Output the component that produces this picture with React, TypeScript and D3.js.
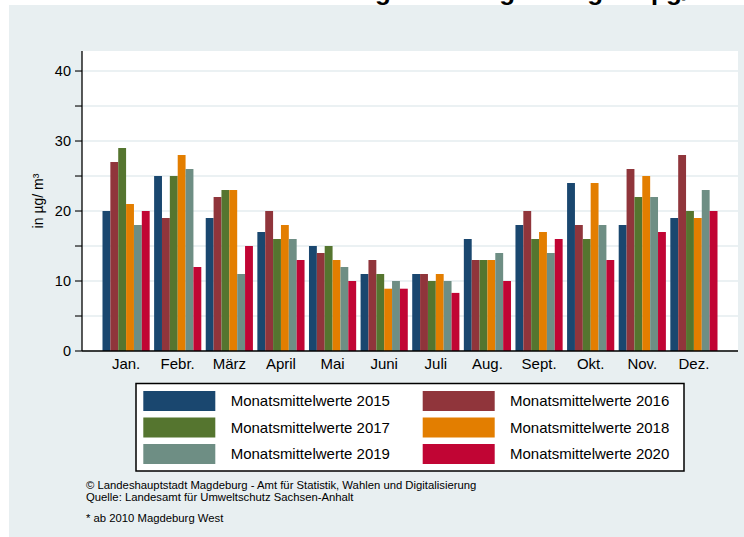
// @ts-nocheck
import React from "react";
import * as d3 from "d3";

const months = ["Jan.", "Febr.", "März", "April", "Mai", "Juni", "Juli", "Aug.", "Sept.", "Okt.", "Nov.", "Dez."];
const years = ["2015", "2016", "2017", "2018", "2019", "2020"];

const v2015 = [20, 25, 19, 17, 15, 11, 11, 16, 18, 24, 18, 19];
const v2016 = [27, 19, 22, 20, 14, 13, 11, 13, 20, 18, 26, 28];
const v2017 = [29, 25, 23, 16, 15, 11, 10, 13, 16, 16, 22, 20];
const v2018 = [21, 28, 23, 18, 13, 8.9, 11, 13, 17, 24, 25, 19];
const v2019 = [18, 26, 11, 16, 12, 10, 10, 14, 14, 18, 22, 23];
const v2020 = [20, 12, 15, 13, 10, 8.9, 8.3, 10, 16, 13, 17, 20];

const yTicks = [0, 10, 20, 30, 40];
const colors = ["#1a476f", "#90353b", "#55752f", "#e37e00", "#6e8e84", "#c10534"];

const W = 744, H = 537;
const FONT = "'Liberation Sans', Arial, Helvetica, sans-serif";
const plot = { left: 82, right: 738, top: 51, bottom: 351 };

export default function App() {
  const series = [v2015, v2016, v2017, v2018, v2019, v2020];

  const x = d3.scaleBand().domain(months).range([plot.left, plot.right])
    .paddingInner(0.086).paddingOuter(0.397);
  const xs = d3.scaleBand().domain(years).range([0, x.bandwidth()]);
  const y = d3.scaleLinear().domain([0, 42.86]).range([plot.bottom, plot.top]);
  const grid = d3.range(0, 41, 5);

  const legendRows = [[0, 1], [2, 3], [4, 5]];

  return (
    <svg width={W} height={H} style={{ position: "absolute", left: 0, top: 0 }} fontFamily={FONT}>
      <rect width={W} height={H} fill="#fff" />
      <text x={61.5} y={-0.5} fontSize={26} fontWeight="bold" fill="#000">
        Stickstoffdioxid-Belastung 2020 Magdeburg* in µg/m³
      </text>
      <rect x={9} y={5} width={W - 9} height={H - 5} fill="#e8eff1" />
      <rect x={plot.left} y={plot.top} width={plot.right - plot.left} height={plot.bottom - plot.top} fill="#fff" />

      {grid.map(g => (
        <line key={"g" + g} x1={plot.left} x2={plot.right} y1={y(g)} y2={y(g)} stroke="#e4ecef" strokeWidth={1.5} />
      ))}

      {months.map((m, i) => (
        <g key={m} transform={`translate(${x(m)},0)`}>
          {series.map((s, j) => (
            <rect key={j} x={xs(years[j])} y={y(s[i])} width={xs.bandwidth()}
              height={y(0) - y(s[i])} fill={colors[j]} />
          ))}
        </g>
      ))}

      {/* y axis */}
      <line x1={plot.left} x2={plot.left} y1={plot.top} y2={plot.bottom} stroke="#000" strokeWidth={1.3} />
      {grid.map(g => (
        <line key={"t" + g} x1={75} x2={plot.left} y1={y(g)} y2={y(g)} stroke="#000" strokeWidth={1.1} />
      ))}
      {yTicks.map(t => (
        <text key={"l" + t} x={71} y={y(t) + 5} textAnchor="end" fontSize={14.5} fill="#000">{t}</text>
      ))}
      <text transform={`translate(43,${(plot.top + plot.bottom) / 2}) rotate(-90)`} textAnchor="middle"
        fontSize={14} fill="#000">in µg/ m³</text>

      {/* x axis */}
      <line x1={plot.left} x2={plot.right} y1={plot.bottom} y2={plot.bottom} stroke="#000" strokeWidth={1.5} />
      {months.map(m => (
        <text key={"x" + m} x={x(m) + x.bandwidth() / 2} y={369} textAnchor="middle" fontSize={15} fill="#000">{m}</text>
      ))}

      {/* legend */}
      <rect x={136} y={383.5} width={548} height={87.5} fill="#fff" stroke="#000" strokeWidth={1.5} />
      {legendRows.map((row, r) =>
        row.map((j, c) => {
          const sx = c === 0 ? 143.3 : 422.7;
          const tx = c === 0 ? 230.7 : 510;
          const sy = 391 + r * 26.5;
          return (
            <g key={"lg" + j}>
              <rect x={sx} y={sy} width={72} height={20} fill={colors[j]} />
              <text x={tx} y={sy + 15} fontSize={15} fill="#000">Monatsmittelwerte {years[j]}</text>
            </g>
          );
        })
      )}

      {/* footer */}
      <text x={86} y={489} fontSize={11.3} fill="#000">©  Landeshauptstadt Magdeburg - Amt für Statistik, Wahlen und Digitalisierung</text>
      <text x={86} y={500.7} fontSize={11.3} fill="#000">Quelle: Landesamt für Umweltschutz Sachsen-Anhalt</text>
      <text x={86} y={522.3} fontSize={11.3} fill="#000">* ab 2010 Magdeburg West</text>
    </svg>
  );
}
